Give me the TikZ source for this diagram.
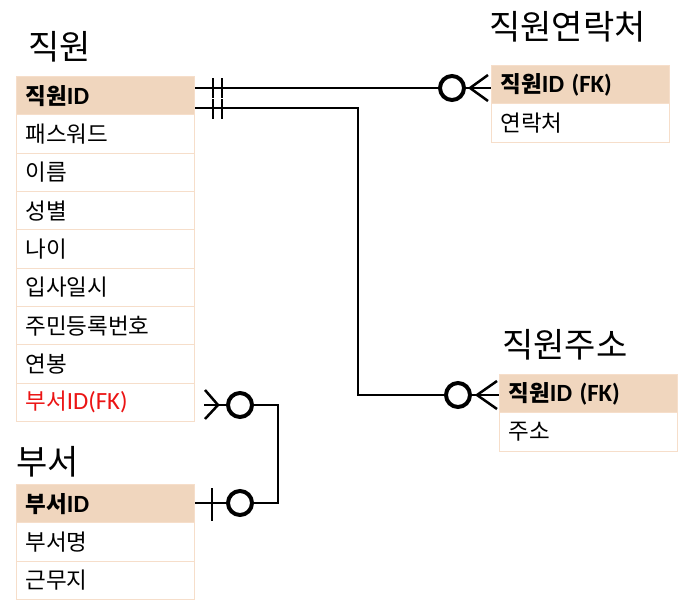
\documentclass[tikz,border=0pt]{standalone}
\usepackage{fontspec}
\setmainfont{Noto Sans CJK KR}
\newfontfamily\latfont{Carlito}[Scale=1.1, BoldFont={Carlito Bold}]
\usetikzlibrary{calc}

\definecolor{hdrfill}{RGB}{240,214,190}
\definecolor{cellline}{RGB}{246,222,202}
\definecolor{fkred}{RGB}{235,20,20}

\newcommand{\idtxt}[1]{{\latfont #1}}

\tikzset{
    cell/.style = {draw=cellline, line width=1pt, anchor=north west,
        minimum height=38.3pt, text width=160pt, inner xsep=9pt, align=left,
        font=\fontsize{22.5}{26}\selectfont},
    keycell/.style = {cell, fill=hdrfill, font=\fontsize{22.5}{26}\selectfont\bfseries},
    title/.style = {anchor=west, inner sep=0pt, font=\fontsize{34}{40}\selectfont},
    rel/.style = {line width=2.5pt},
    opt/.style = {line width=4pt},
}

\begin{document}
\begin{tikzpicture}[x=1pt, y=-1pt]
    \useasboundingbox (0,0) rectangle (686,608);

    % 직원
    \node[title] (tEmp) at (28,47) {직원};
    \node[keycell] (emp1) at (16,76) {직원\idtxt{ID}};
    \foreach \t [count=\i from 2] in {패스워드, 이름, 성별, 나이, 입사일시, 주민등록번호, 연봉}
        \node[cell] (emp\i) at (16,{76+38.33*(\i-1)}) {\t};
    \node[cell, text=fkred] (emp9) at (16,{76+38.33*8}) {부서\idtxt{ID(FK)}};

    % 부서
    \node[title] (tDept) at (16,462) {부서};
    \node[keycell] (dept1) at (16,484) {부서\idtxt{ID}};
    \node[cell] (dept2) at (16,522.3) {부서명};
    \node[cell] (dept3) at (16,560.6) {근무지};

    % 직원연락처
    \node[title] (tCon) at (489,27) {직원연락처};
    \node[keycell] (con1) at (491,65) {직원\idtxt{ID (FK)}};
    \node[cell] (con2) at (491,103.3) {연락처};

    % 직원주소
    \node[title] (tAdr) at (502,345) {직원주소};
    \node[keycell] (adr1) at (499,374) {직원\idtxt{ID (FK)}};
    \node[cell] (adr2) at (499,412.3) {주소};

    % 직원 - 직원연락처
    \coordinate (c1) at (emp1.east |- 0,88);
    \coordinate (c2) at (con1.west |- 0,88);
    \draw[rel] (c1) -- (c2);
    \draw[rel] (213,78) -- (213,98);
    \draw[rel] (222,78) -- (222,98);
    \draw[opt, fill=white] (452,88) circle (12);
    \draw[rel] (488,75) -- (470,88) -- (488,101);

    % 직원 - 직원주소
    \coordinate (a1) at (emp1.east |- 0,108);
    \coordinate (a2) at (adr1.west |- 0,395);
    \draw[rel] (a1) -- (358,108) -- (358,395) -- (a2);
    \draw[rel] (213,99) -- (213,119);
    \draw[rel] (222,99) -- (222,119);
    \draw[opt, fill=white] (458,395) circle (12);
    \draw[rel] (497,381) -- (477,395) -- (497,409);

    % 직원 - 부서
    \coordinate (d1) at ($(emp9.east |- 0,405)+(9,0)$);
    \coordinate (d2) at (dept1.east |- 0,503);
    \draw[rel] (d1) -- (278,405) -- (278,503) -- (d2);
    \draw[rel] (205,390) -- (218,405) -- (205,419);
    \draw[opt, fill=white] (240,405) circle (12);
    \draw[rel] (212,488) -- (212,521);
    \draw[opt, fill=white] (240,503) circle (12);
\end{tikzpicture}
\end{document}
